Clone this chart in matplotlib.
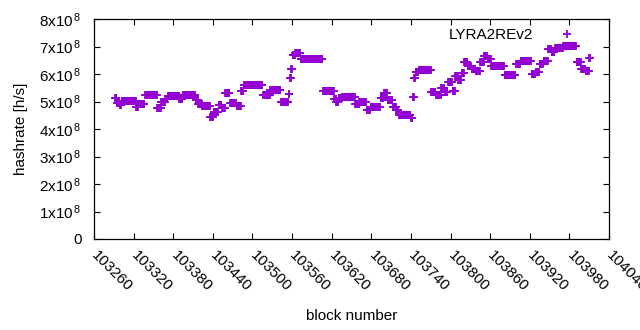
import numpy as np
import matplotlib.pyplot as plt

plt.rcParams['font.family'] = ['Liberation Sans', 'DejaVu Sans']
plt.rcParams['mathtext.default'] = 'regular'

# hashrate is constant over runs of blocks: run start block and value (x1e8 h/s)
run_start = [103292, 103295, 103299, 103302, 103324, 103327, 103337, 103356, 103362, 103368,
             103372, 103389, 103395, 103414, 103418, 103424, 103436, 103441, 103449, 103454,
             103459, 103466, 103476, 103483, 103487, 103516, 103527, 103543, 103555, 103557,
             103559, 103561, 103565, 103573, 103607, 103624, 103627, 103631, 103636, 103656,
             103662, 103673, 103679, 103694, 103699, 103705, 103713, 103718, 103722, 103740,
             103743, 103745, 103747, 103752, 103771, 103778, 103786, 103791, 103796, 103803,
             103807, 103812, 103817, 103821, 103826, 103832, 103838, 103845, 103851, 103856,
             103862, 103882, 103899, 103906, 103923, 103929, 103935, 103941, 103948, 103953,
             103958, 103971, 103991, 103998, 104005, 104010]
run_value = [5.12, 4.95, 4.87, 5.03, 4.80, 4.90, 5.24, 4.76, 5.00, 5.10,
             5.20, 5.09, 5.24, 5.05, 4.90, 4.84, 4.43, 4.62, 4.87, 4.76,
             5.30, 4.95, 4.84, 5.40, 5.60, 5.24, 5.42, 5.00, 5.27, 5.85,
             6.20, 6.70, 6.76, 6.55, 5.38, 5.09, 5.00, 5.12, 5.16, 4.90,
             5.00, 4.69, 4.80, 5.12, 5.30, 5.05, 4.80, 4.69, 4.50, 4.40,
             5.16, 5.85, 6.07, 6.15, 5.35, 5.24, 5.50, 5.35, 5.70, 5.38,
             5.93, 5.78, 6.03, 6.44, 6.30, 6.20, 6.10, 6.44, 6.65, 6.55,
             6.30, 5.96, 6.36, 6.47, 6.00, 6.07, 6.36, 6.47, 6.90, 6.80,
             6.95, 7.02, 6.44, 6.20, 6.10, 6.60]
last_block = 104011

xticks = list(range(103260, 104041, 60))
yticks = list(range(0, 9))

blocks = []
rates = []
ends = run_start[1:] + [last_block + 1]
for s, e, v in zip(run_start, ends, run_value):
    for b in range(s, e):
        blocks.append(b)
        rates.append(v * 1e8)

fig = plt.figure(figsize=(6.4, 3.3), dpi=100)
ax = fig.add_axes([94/640, 1 - 239/330, (609 - 94)/640, 220/330])
col = '#9400d3'
ax.plot(blocks, rates, linestyle='none', marker='+', ms=5.5, mew=1.3, color=col, label='LYRA2REv2')

ax.set_xlim(103260, 104040)
ax.set_ylim(0, 8e8)
ax.set_xticks(xticks)
ax.set_xticklabels([str(t) for t in xticks], rotation=-45, ha='left', va='center',
                   rotation_mode='anchor')
ax.set_yticks([t * 1e8 for t in yticks])
ax.set_yticklabels(['0'] + ['%dx10$^{\\,8}$' % t for t in yticks[1:]])
ax.tick_params(direction='in', top=True, right=True, length=4, width=0.8, labelsize=11)
ax.tick_params(axis='y', pad=9)
ax.tick_params(axis='x', pad=10)
for sp in ax.spines.values():
    sp.set_linewidth(0.9)

ax.set_xlabel('block number', fontsize=11, labelpad=11)
ax.set_ylabel('hashrate [h/s]', fontsize=11, labelpad=8)
ax.legend(loc='upper right', frameon=False, markerfirst=False, fontsize=11,
          handlelength=2, handletextpad=1.2, bbox_to_anchor=(0.975, 1.022))

fig.savefig('out.png', dpi=100)
